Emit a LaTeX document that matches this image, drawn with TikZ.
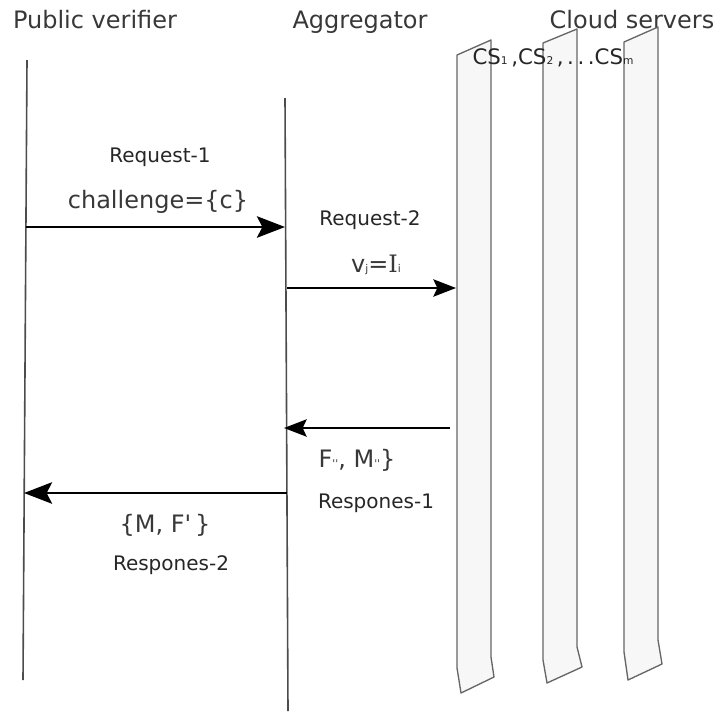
\documentclass[tikz,border=0pt]{standalone}
\usepackage{fontspec}
\setmainfont{DejaVu Sans}
\newfontfamily\serifface{DejaVu Serif}
\usetikzlibrary{arrows.meta}
\newcommand*\bigsize{\fontsize{18}{20}\selectfont}
\newcommand*\tagsize{\fontsize{15}{17}\selectfont}
\newcommand*\wee[1]{{\fontsize{8}{8}\selectfont #1}}
\tikzset{
    lifeline/.style = {draw=black!70, line width=1.2pt},
    server/.style   = {draw=black!60, fill=black!3, line width=1pt, line join=round},
    bigmsg/.style   = {-{Stealth[length=21pt,width=16pt,inset=4pt]}, line width=2.2pt},
    msg/.style      = {-{Stealth[length=17pt,width=13pt,inset=3pt]}, line width=1.5pt},
    actor/.style    = {text=black!78, font=\bigsize, inner sep=0pt, anchor=base},
    msgtext/.style  = {text=black!78, font=\bigsize, inner sep=0pt, anchor=base},
    msgtag/.style   = {text=black!85, font=\tagsize, inner sep=0pt, anchor=base},
}

\begin{document}
\begin{tikzpicture}[x=0.75pt,y=-0.75pt]
      \useasboundingbox (0,0) rectangle (723,711);

      % Actors
      \node[actor] (verifier)   at (95,28)  {Public verifier};
      \node[actor] (aggregator) at (360,28) {Aggregator};
      \node[actor] (cloud)      at (632,28) {Cloud servers};

      % Lifelines
      \coordinate (pv-top)  at (27,60);
      \coordinate (pv-bot)  at (23,680);
      \coordinate (ag-top)  at (285,98);
      \coordinate (ag-bot)  at (288,711);
      \draw[lifeline] (pv-top) -- (pv-bot);
      \draw[lifeline] (ag-top) -- (ag-bot);

      % Cloud server strips
      \draw[server] (457,55) -- (491,40) -- (491,657) -- (494,677) -- (461,693) -- (457,668) -- cycle;
      \draw[server] (543,43) -- (577,29) -- (577,647) -- (582,667) -- (547,683) -- (543,660) -- cycle;
      \draw[server] (624,42) -- (658,27) -- (658,640) -- (662,664) -- (628,680) -- (624,652) -- cycle;
      \node[msgtag, font=\fontsize{16}{18}\selectfont] (servers) at (553,64)
        {CS\wee{1}\,,CS\wee{2}\,,\,.\,.\,.CS\wee{m}};

      % Request-1: verifier -> aggregator
      \coordinate (req1-a) at (26,227);
      \coordinate (req1-b) at (285,227);
      \draw[bigmsg] (req1-a) -- (req1-b);
      \node[msgtag]  (req1)  at (160,162) {Request-1};
      \node[msgtext] (chal)  at (158,208) {challenge=\{c\}};

      % Request-2: aggregator -> servers
      \coordinate (req2-a) at (287,288);
      \coordinate (req2-b) at (456,288);
      \draw[msg] (req2-a) -- (req2-b);
      \node[msgtag]  (req2)  at (370,225) {Request-2};
      \node[msgtext] (vj)    at (376,272) {v\wee{j}={\serifface I}\wee{i}};

      % Respones-1: servers -> aggregator
      \coordinate (res1-a) at (450,428);
      \coordinate (res1-b) at (284,428);
      \draw[msg] (res1-a) -- (res1-b);
      \node[msgtext] (fm)    at (357,467) {F\wee{\textquotesingle\textquotesingle}, M\wee{\textquotesingle\textquotesingle}\}};
      \node[msgtag]  (res1)  at (376,508) {Respones-1};

      % Respones-2: aggregator -> verifier
      \coordinate (res2-a) at (287,493);
      \coordinate (res2-b) at (24,493);
      \draw[bigmsg] (res2-a) -- (res2-b);
      \node[msgtext] (mf)    at (165,532) {\{M, F\textquotesingle\,\}};
      \node[msgtag]  (res2)  at (171,570) {Respones-2};
\end{tikzpicture}
\end{document}
